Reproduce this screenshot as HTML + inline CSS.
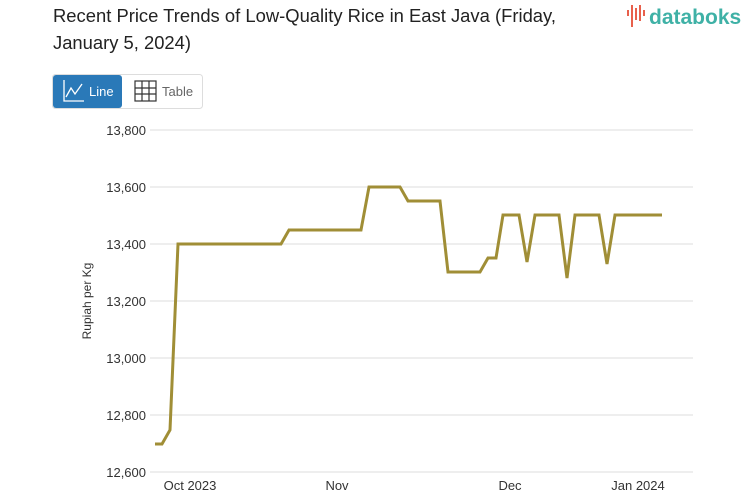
<!DOCTYPE html>
<html><head><meta charset="utf-8"><style>
body{margin:0;background:#fff;font-family:"Liberation Sans",sans-serif;}
</style></head><body>
<svg width="753" height="498" xmlns="http://www.w3.org/2000/svg" font-family="Liberation Sans, sans-serif">
<text x="53" y="22" font-size="18" fill="#222" textLength="503" lengthAdjust="spacingAndGlyphs">Recent Price Trends of Low-Quality Rice in East Java (Friday,</text>
<text x="53" y="49" font-size="18" fill="#222" textLength="138" lengthAdjust="spacingAndGlyphs">January 5, 2024)</text>
<g fill="#e8604c"><rect x="627" y="10" width="2" height="6"/><rect x="631" y="5" width="2" height="22"/><rect x="635" y="8" width="2" height="12"/><rect x="639" y="5" width="2" height="16"/><rect x="643" y="10" width="2" height="6"/></g>
<text x="649" y="24" font-size="21" fill="#3fb1a6" font-weight="bold">databoks</text>
<rect x="52.5" y="74.5" width="150" height="34" rx="3" fill="#fff" stroke="#ddd"/>
<rect x="53" y="75" width="69" height="33" rx="3" fill="#2a79b8"/>
<polyline points="64,80 64,101 84,101" fill="none" stroke="#fff" stroke-width="1.3"/>
<polyline points="66,97 71,88 75,94 82,84" fill="none" stroke="#fff" stroke-width="1.3"/>
<text x="89" y="96" font-size="13" fill="#fff">Line</text>
<g stroke="#333" stroke-width="1.2" fill="none"><rect x="135" y="81" width="21" height="20"/><line x1="142" y1="81" x2="142" y2="101"/><line x1="149" y1="81" x2="149" y2="101"/><line x1="135" y1="88" x2="156" y2="88"/><line x1="135" y1="94" x2="156" y2="94"/></g>
<text x="162" y="96" font-size="13" fill="#666">Table</text>
<g stroke="#ddd" stroke-width="1">
<line x1="150" y1="130" x2="693" y2="130"/><line x1="150" y1="187" x2="693" y2="187"/><line x1="150" y1="244" x2="693" y2="244"/><line x1="150" y1="301" x2="693" y2="301"/><line x1="150" y1="358" x2="693" y2="358"/><line x1="150" y1="415" x2="693" y2="415"/><line x1="150" y1="472" x2="693" y2="472"/>
</g>
<g font-size="13" fill="#333" text-anchor="end">
<text x="146" y="135">13,800</text><text x="146" y="192">13,600</text><text x="146" y="249">13,400</text><text x="146" y="306">13,200</text><text x="146" y="363">13,000</text><text x="146" y="420">12,800</text><text x="146" y="477">12,600</text>
</g>
<text transform="translate(91,301) rotate(-90)" font-size="12" fill="#333" text-anchor="middle">Rupiah per Kg</text>
<g font-size="13" fill="#333" text-anchor="middle">
<text x="190" y="490">Oct 2023</text><text x="337" y="490">Nov</text><text x="510" y="490">Dec</text><text x="638" y="490">Jan 2024</text>
</g>
<polyline fill="none" stroke="#a08e36" stroke-width="3" stroke-linejoin="miter" points="155,444 162,444 170,430 178,244 281,244 289,230 361,230 369,187 400,187 408,201 440,201 448,272 480,272 488,258 496,258 503,215 519,215 527,262 535,215 559,215 567,278 575,215 599,215 607,264 615,215 662,215"/>
</svg>
</body></html>
